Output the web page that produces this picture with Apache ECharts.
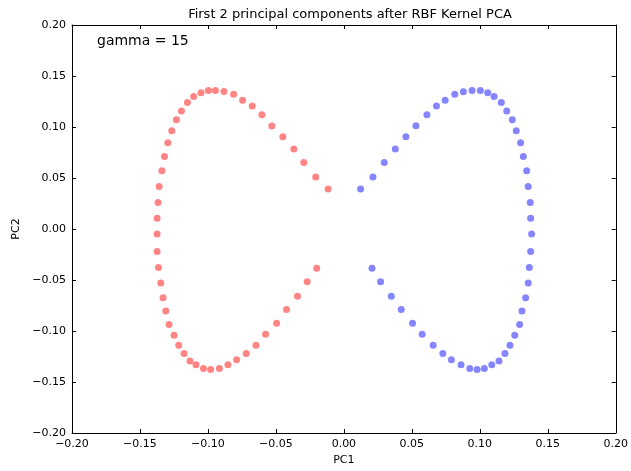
<!DOCTYPE html>
<html>
<head>
<meta charset="utf-8">
<script src="https://cdn.jsdelivr.net/npm/echarts@6/dist/echarts.min.js"></script>
<style>
  html, body { margin: 0; padding: 0; background: #fff; }
  #chart { width: 631px; height: 471px; }
</style>
</head>
<body>
<div id="chart"></div>
<script>
// Class 0 projected onto the first two kernel principal components
const redPC1 = [-0.0116, -0.0207, -0.0295, -0.0368, -0.0449, -0.0530, -0.0603, -0.0674, -0.0745, -0.0811,
  -0.0882, -0.0945, -0.0997, -0.1051, -0.1105, -0.1151, -0.1195, -0.1232, -0.1266, -0.1295,
  -0.1320, -0.1339, -0.1359, -0.1367, -0.1374, -0.1374, -0.1374, -0.1364, -0.1347, -0.1330,
  -0.1310, -0.1286, -0.1249, -0.1215, -0.1176, -0.1132, -0.1088, -0.1033, -0.0980, -0.0916,
  -0.0853, -0.0789, -0.0718, -0.0647, -0.0576, -0.0495, -0.0422, -0.0341, -0.0270, -0.0200];
const redPC2 = [0.0393, 0.0510, 0.0653, 0.0784, 0.0905, 0.1009, 0.1120, 0.1205, 0.1263, 0.1322,
  0.1348, 0.1358, 0.1358, 0.1335, 0.1299, 0.1240, 0.1156, 0.1071, 0.0963, 0.0846,
  0.0712, 0.0572, 0.0416, 0.0259, 0.0106, -0.0049, -0.0220, -0.0377, -0.0530, -0.0673,
  -0.0804, -0.0937, -0.1042, -0.1139, -0.1220, -0.1293, -0.1332, -0.1367, -0.1377, -0.1367,
  -0.1332, -0.1283, -0.1220, -0.1139, -0.1032, -0.0924, -0.0790, -0.0660, -0.0516, -0.0386];

// Class 1 projected onto the same components
const bluePC1 = [0.0123, 0.0214, 0.0297, 0.0378, 0.0456, 0.0530, 0.0611, 0.0681, 0.0745, 0.0816,
  0.0879, 0.0943, 0.1004, 0.1058, 0.1105, 0.1158, 0.1198, 0.1239, 0.1268, 0.1300,
  0.1320, 0.1345, 0.1356, 0.1371, 0.1374, 0.1381, 0.1374, 0.1364, 0.1356, 0.1337,
  0.1310, 0.1293, 0.1257, 0.1222, 0.1185, 0.1141, 0.1088, 0.1033, 0.0980, 0.0926,
  0.0862, 0.0791, 0.0728, 0.0657, 0.0576, 0.0505, 0.0422, 0.0349, 0.0270, 0.0207];
const bluePC2 = [0.0393, 0.0510, 0.0653, 0.0784, 0.0905, 0.1012, 0.1120, 0.1205, 0.1263, 0.1322,
  0.1345, 0.1358, 0.1358, 0.1335, 0.1299, 0.1240, 0.1156, 0.1071, 0.0963, 0.0846,
  0.0712, 0.0572, 0.0416, 0.0259, 0.0106, -0.0049, -0.0220, -0.0377, -0.0530, -0.0673,
  -0.0804, -0.0937, -0.1042, -0.1139, -0.1220, -0.1293, -0.1332, -0.1367, -0.1377, -0.1367,
  -0.1332, -0.1283, -0.1220, -0.1139, -0.1032, -0.0924, -0.0790, -0.0660, -0.0516, -0.0386];

const xTickLimits = [-0.20, 0.20];
const yTickLimits = [-0.20, 0.20];
const tickStep = 0.05;
const annotation = 'gamma = 15';

const font = 'DejaVu Sans';
const fmt = v => {
  const s = Math.abs(v) < 1e-9 ? '0.00' : Math.abs(v).toFixed(2);
  return (v < -1e-9 ? '\u2212' : '') + s;
};
const zip = (a, b) => a.map((v, i) => [v, b[i]]);

const baseAxis = (min, max) => ({
  type: 'value', min, max, interval: tickStep,
  axisLine: { show: true, onZero: false, lineStyle: { color: '#000', width: 1 } },
  axisTick: { show: true, inside: true, length: 4, lineStyle: { color: '#000' } },
  splitLine: { show: false }
});

const chart = echarts.init(document.getElementById('chart'), null, { renderer: 'canvas' });
chart.setOption({
  animation: false,
  backgroundColor: '#fff',
  title: {
    text: 'First 2 principal components after RBF Kernel PCA',
    left: 345, top: 3, textAlign: 'center',
    textStyle: { fontFamily: font, fontSize: 13, fontWeight: 'normal', color: '#000' }
  },
  grid: { left: 72, right: 14, top: 25, bottom: 37 },
  xAxis: [
    Object.assign(baseAxis(xTickLimits[0], xTickLimits[1]), {
      position: 'bottom',
      name: 'PC1', nameLocation: 'middle', nameGap: 22,
      nameTextStyle: { fontFamily: font, fontSize: 11, color: '#000' },
      axisLabel: { fontFamily: font, fontSize: 11, color: '#000', margin: 6, formatter: fmt }
    }),
    Object.assign(baseAxis(xTickLimits[0], xTickLimits[1]), {
      position: 'top', axisLabel: { show: false }
    })
  ],
  yAxis: [
    Object.assign(baseAxis(yTickLimits[0], yTickLimits[1]), {
      position: 'left',
      name: 'PC2', nameLocation: 'middle', nameGap: 48, nameRotate: 90,
      nameTextStyle: { fontFamily: font, fontSize: 11, color: '#000' },
      axisLabel: { fontFamily: font, fontSize: 11, color: '#000', margin: 6, formatter: fmt }
    }),
    Object.assign(baseAxis(yTickLimits[0], yTickLimits[1]), {
      position: 'right', axisLabel: { show: false }
    })
  ],
  graphic: [{
    type: 'text', left: 97, top: 34,
    style: { text: annotation, fontFamily: font, fontSize: 14, fill: '#000' }
  }],
  series: [
    {
      type: 'scatter', xAxisIndex: 0, yAxisIndex: 0,
      data: zip(redPC1, redPC2), symbolSize: 7,
      itemStyle: { color: 'rgba(255,0,0,0.6)' }
    },
    {
      type: 'scatter', xAxisIndex: 0, yAxisIndex: 0,
      data: zip(bluePC1, bluePC2), symbolSize: 7,
      itemStyle: { color: 'rgba(0,0,255,0.6)' }
    }
  ]
});
</script>
</body>
</html>
